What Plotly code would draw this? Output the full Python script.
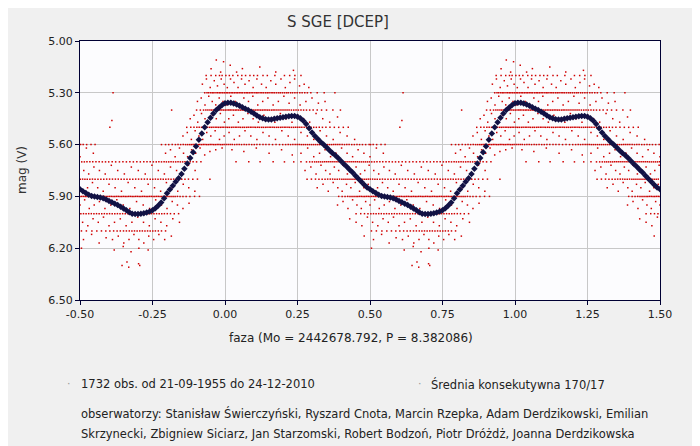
import plotly.graph_objects as go

# ---------------- data ----------------
# mean light curve (consecutive mean), phase 0.00 .. 0.99 step 0.01
mean_phase = [i / 100 for i in range(100)]
mean_mag = [
    5.360, 5.357, 5.358, 5.362, 5.368, 5.375, 5.383, 5.392, 5.400, 5.410,
    5.420, 5.432, 5.442, 5.448, 5.453, 5.455, 5.454, 5.450, 5.447, 5.444,
    5.442, 5.439, 5.436, 5.434, 5.434, 5.438, 5.448, 5.462, 5.480, 5.505,
    5.530, 5.550, 5.568, 5.585, 5.600, 5.615, 5.632, 5.648, 5.662, 5.678,
    5.695, 5.712, 5.728, 5.745, 5.762, 5.780, 5.798, 5.815, 5.832, 5.848,
    5.858, 5.870, 5.880, 5.890, 5.897, 5.900, 5.903, 5.907, 5.911, 5.918,
    5.926, 5.934, 5.942, 5.950, 5.960, 5.970, 5.980, 5.992, 6.000, 6.002,
    6.002, 6.001, 5.998, 5.993, 5.987, 5.980, 5.968, 5.953, 5.935, 5.910,
    5.882, 5.860, 5.838, 5.815, 5.795, 5.770, 5.740, 5.710, 5.678, 5.645,
    5.610, 5.572, 5.535, 5.500, 5.470, 5.445, 5.420, 5.400, 5.385, 5.370,
]

# observations on the 0.1-mag levels: phases in thousandths
band_520 = [935, 952, 968, 981, 990, 3, 15, 27, 44, 58, 71, 86, 99, 112, 131, 146, 172, 205, 223, 241, 262]
band_530 = [930, 938, 944, 951, 957, 962, 969, 975, 981, 986, 992, 998, 4, 9, 15, 21, 26, 32, 38, 43, 49, 55,
            60, 67, 73, 78, 84, 90, 96, 103, 109, 114, 121, 127, 133, 140, 146, 152, 159, 165, 171, 178, 185,
            191, 198, 205, 212, 218, 226, 233, 241, 249, 258, 266, 275, 284, 296, 318, 342, 379, 614]
band_540 = [902, 915, 926, 934, 941, 948, 954, 960, 966, 972, 977, 983, 989, 995, 1, 7, 13, 18, 24, 30, 36, 41,
            47, 53, 59, 64, 70, 76, 82, 88, 93, 99, 105, 111, 117, 123, 129, 135, 141, 147, 153, 160, 166, 172,
            179, 186, 193, 200, 207, 214, 221, 229, 237, 245, 253, 262, 271, 281, 292, 304, 318, 333, 350, 372,
            398, 816]
band_550 = [868, 882, 893, 903, 911, 919, 926, 933, 940, 947, 953, 959, 966, 972, 978, 984, 990, 996, 3, 9, 15,
            22, 28, 35, 41, 48, 54, 61, 67, 74, 80, 87, 93, 100, 106, 113, 119, 126, 132, 139, 145, 152, 158,
            165, 171, 178, 184, 191, 197, 204, 210, 217, 223, 230, 237, 244, 251, 258, 265, 273, 281, 289, 297,
            306, 315, 325, 336, 348, 362, 377, 392, 408, 425, 603]
band_560 = [502, 511, 523, 538, 552, 781, 795, 806, 818, 829, 838, 847, 856, 864, 871, 878, 884, 890, 896, 902,
            908, 913, 919, 925, 931, 937, 943, 949, 955, 961, 967, 973, 979, 985, 991, 997, 4, 11, 18, 25, 33,
            41, 49, 57, 66, 74, 83, 92, 101, 110, 120, 131, 141, 152, 164, 176, 188, 199, 209, 218, 226, 234,
            242, 249, 256, 263, 270, 277, 284, 291, 298, 305, 312, 319, 326, 333, 340, 347, 354, 361, 368, 375,
            382, 389, 396, 404, 412, 420, 428, 437, 446, 455, 464, 474, 485, 497]
band_570 = [38, 82, 121, 166, 205, 237, 262, 281, 292, 301, 309, 316, 323, 330, 337, 344, 351, 358, 365, 372,
            379, 386, 393, 400, 407, 414, 421, 428, 435, 442, 449, 456, 463, 470, 477, 484, 491, 498, 506, 515,
            524, 534, 544, 555, 566, 577, 588, 599, 611, 623, 636, 648, 660, 672, 684, 696, 708, 720, 731, 742,
            753, 763, 772, 781, 790, 798, 806, 814, 822, 830, 838, 846, 854, 862, 871, 880, 890, 902, 917]
band_580 = [283, 298, 312, 324, 335, 345, 354, 363, 371, 379, 387, 395, 403, 410, 417, 424, 431, 438, 445, 452,
            459, 466, 473, 480, 487, 494, 501, 509, 517, 525, 534, 543, 552, 562, 572, 582, 592, 602, 612, 622,
            632, 642, 652, 662, 672, 682, 692, 702, 712, 722, 732, 742, 751, 760, 769, 778, 787, 796, 805, 814,
            823, 832, 841, 851, 862, 874, 889, 905, 948]
band_590 = [392, 404, 414, 423, 431, 438, 445, 452, 458, 464, 470, 476, 482, 488, 494, 500, 506, 512, 518, 524,
            530, 536, 542, 548, 554, 560, 566, 572, 578, 584, 590, 596, 602, 608, 614, 620, 626, 632, 638, 644,
            650, 656, 662, 668, 674, 680, 686, 692, 698, 704, 710, 716, 722, 728, 734, 740, 746, 752, 758, 764,
            770, 776, 782, 788, 794, 800, 807, 814, 821, 828, 836, 845, 855, 866, 879, 895, 912]
band_600 = [452, 468, 481, 493, 503, 512, 521, 530, 539, 548, 557, 566, 575, 584, 593, 602, 611, 620, 629, 638,
            647, 656, 665, 674, 683, 692, 701, 710, 719, 728, 737, 746, 755, 764, 773, 782, 791, 801, 812, 825,
            840]
band_610 = [505, 522, 541, 558, 574, 589, 603, 616, 628, 639, 650, 660, 670, 679, 688, 697, 706, 715, 724, 733,
            742, 751, 760, 770, 781, 795]

# observations between the 0.1-mag levels: (phase in thousandths, mag)
scatter_obs = [
    (970, 5.11), (995, 5.12), (18, 5.14), (952, 5.16), (60, 5.16), (120, 5.15), (236, 5.17), (985, 5.18),
    (40, 5.18), (175, 5.18),
    (922, 5.25), (936, 5.22), (949, 5.27), (963, 5.23), (974, 5.26), (987, 5.22), (997, 5.25), (8, 5.27),
    (19, 5.22), (31, 5.24), (45, 5.27), (57, 5.22), (69, 5.25), (83, 5.23), (97, 5.27), (110, 5.22),
    (126, 5.25), (142, 5.27), (158, 5.23), (175, 5.25), (193, 5.22), (208, 5.27), (224, 5.24), (240, 5.22),
    (257, 5.26), (273, 5.25), (289, 5.27),
    (905, 5.35), (918, 5.33), (931, 5.37), (944, 5.32), (956, 5.35), (968, 5.37), (980, 5.33), (993, 5.35),
    (6, 5.37), (20, 5.32), (35, 5.35), (50, 5.37), (65, 5.33), (81, 5.35), (96, 5.32), (113, 5.37),
    (130, 5.35), (148, 5.33), (166, 5.37), (184, 5.35), (203, 5.32), (221, 5.36), (240, 5.33), (259, 5.37),
    (279, 5.35), (300, 5.33), (322, 5.36), (345, 5.35),
    (880, 5.45), (893, 5.43), (906, 5.47), (919, 5.42), (931, 5.45), (944, 5.47), (957, 5.43), (970, 5.45),
    (984, 5.42), (998, 5.47), (13, 5.45), (29, 5.43), (46, 5.47), (62, 5.45), (79, 5.42), (97, 5.45),
    (115, 5.47), (134, 5.43), (153, 5.45), (172, 5.47), (191, 5.42), (211, 5.45), (231, 5.47), (251, 5.43),
    (271, 5.45), (292, 5.47), (314, 5.42), (337, 5.45), (361, 5.47), (388, 5.44), (610, 5.46),
    (855, 5.55), (870, 5.53), (884, 5.57), (897, 5.52), (910, 5.55), (923, 5.57), (937, 5.53), (951, 5.55),
    (966, 5.52), (981, 5.57), (997, 5.55), (14, 5.53), (32, 5.57), (50, 5.55), (69, 5.52), (89, 5.55),
    (110, 5.57), (131, 5.53), (152, 5.55), (174, 5.57), (196, 5.52), (218, 5.55), (240, 5.57), (262, 5.53),
    (284, 5.55), (306, 5.57), (328, 5.52), (350, 5.55), (373, 5.57), (397, 5.53), (421, 5.55), (447, 5.57),
    (795, 5.65), (812, 5.63), (828, 5.67), (843, 5.62), (857, 5.65), (871, 5.67), (885, 5.63), (899, 5.65),
    (914, 5.62), (930, 5.66), (948, 5.64), (968, 5.63), (990, 5.62), (24, 5.63), (65, 5.64), (108, 5.62),
    (152, 5.65), (195, 5.63), (232, 5.66), (262, 5.65), (285, 5.62), (306, 5.67), (326, 5.65), (345, 5.63),
    (364, 5.67), (383, 5.65), (402, 5.62), (421, 5.65), (440, 5.67), (459, 5.63), (479, 5.65), (500, 5.67),
    (522, 5.62), (546, 5.65),
    (276, 5.75), (296, 5.73), (314, 5.77), (331, 5.72), (347, 5.75), (362, 5.77), (377, 5.73), (392, 5.75),
    (407, 5.72), (422, 5.77), (437, 5.75), (452, 5.73), (467, 5.77), (482, 5.75), (497, 5.72), (513, 5.75),
    (530, 5.77), (548, 5.73), (567, 5.75), (587, 5.77), (608, 5.72), (630, 5.75), (653, 5.77), (677, 5.73),
    (701, 5.75), (725, 5.77), (748, 5.72), (770, 5.75), (791, 5.77), (812, 5.73), (833, 5.75), (853, 5.77),
    (874, 5.72), (897, 5.75),
    (318, 5.85), (338, 5.83), (356, 5.87), (373, 5.82), (389, 5.85), (404, 5.87), (419, 5.83), (434, 5.85),
    (449, 5.82), (464, 5.87), (479, 5.85), (494, 5.83), (510, 5.87), (526, 5.85), (543, 5.82), (561, 5.85),
    (580, 5.87), (600, 5.83), (621, 5.85), (643, 5.87), (666, 5.82), (689, 5.85), (712, 5.87), (735, 5.83),
    (757, 5.85), (778, 5.87), (798, 5.82), (818, 5.85), (837, 5.87), (856, 5.83), (875, 5.85), (896, 5.87),
    (388, 5.95), (407, 5.93), (424, 5.97), (440, 5.92), (455, 5.95), (470, 5.97), (485, 5.93), (500, 5.95),
    (516, 5.92), (532, 5.97), (549, 5.95), (567, 5.93), (586, 5.97), (606, 5.95), (627, 5.92), (649, 5.95),
    (672, 5.97), (695, 5.93), (718, 5.95), (740, 5.97), (761, 5.92), (781, 5.95), (800, 5.97), (818, 5.93),
    (836, 5.95), (855, 5.97), (876, 5.94),
    (430, 6.03), (452, 6.05), (472, 6.07), (491, 6.02), (509, 6.05), (527, 6.07), (545, 6.03), (563, 6.05),
    (581, 6.02), (600, 6.07), (619, 6.05), (639, 6.03), (659, 6.07), (679, 6.05), (699, 6.02), (719, 6.05),
    (739, 6.07), (759, 6.03), (779, 6.05), (799, 6.07), (820, 6.03), (843, 6.05),
    (480, 6.13), (512, 6.15), (540, 6.12), (566, 6.17), (590, 6.14), (612, 6.15), (632, 6.13), (651, 6.17),
    (669, 6.15), (686, 6.12), (703, 6.15), (720, 6.17), (737, 6.13), (754, 6.15), (772, 6.12), (792, 6.15),
    (815, 6.13),
    (505, 6.20), (618, 6.21), (649, 6.19), (676, 6.22), (703, 6.20), (735, 6.21),
    (645, 6.30), (662, 6.28), (668, 6.31), (702, 6.29), (706, 6.30),
]

x_ticks = [-0.50, -0.25, 0.00, 0.25, 0.50, 0.75, 1.00, 1.25, 1.50]
y_ticks = [5.00, 5.30, 5.60, 5.90, 6.20, 6.50]

title_text = "S SGE [DCEP]"
x_title = "faza (Mo = 2442678.792, P = 8.382086)"
y_title = "mag (V)"
info_obs = "1732 obs. od 21-09-1955 do 24-12-2010"
info_mean = "Średnia konsekutywna 170/17"
observers_1 = "obserwatorzy: Stanisław Świerczyński, Ryszard Cnota, Marcin Rzepka, Adam Derdzikowski, Emilian"
observers_2 = "Skrzynecki, Zbigniew Siciarz, Jan Starzomski, Robert Bodzoń, Piotr Dróżdż, Joanna Derdzikowska"

# ---------------- assemble ----------------
obs_phase, obs_mag = [], []
for lvl, arr in [(5.20, band_520), (5.30, band_530), (5.40, band_540), (5.50, band_550), (5.60, band_560),
                 (5.70, band_570), (5.80, band_580), (5.90, band_590), (6.00, band_600), (6.10, band_610)]:
    for p in arr:
        obs_phase.append(p / 1000)
        obs_mag.append(lvl)
for p, m in scatter_obs:
    obs_phase.append(p / 1000)
    obs_mag.append(m)


def fold(phases, mags):
    xs, ys = [], []
    for p, m in zip(phases, mags):
        for shift in (-1, 0, 1):
            x = p + shift
            if -0.5 - 1e-9 <= x <= 1.5 + 1e-9:
                xs.append(x)
                ys.append(m)
    return xs, ys


ox, oy = fold(obs_phase, obs_mag)
mx, my = fold(mean_phase, mean_mag)
order = sorted(range(len(mx)), key=lambda i: mx[i])
mx = [mx[i] for i in order]
my = [my[i] for i in order]

fig = go.Figure()
fig.add_trace(go.Scatter(x=ox, y=oy, mode="markers",
                         marker=dict(symbol="square", size=1.5, color="#d00000", line=dict(width=0)),
                         hoverinfo="skip", showlegend=False))
fig.add_trace(go.Scatter(x=mx, y=my, mode="markers",
                         marker=dict(symbol="diamond", size=5, color="#121245", line=dict(width=0)),
                         hoverinfo="skip", showlegend=False))

# page is drawn with an 8 px body margin, so figure coords = screen coords - 8
OFF = 8
W, H = 700 - OFF, 446 - OFF
L, R, T, B = 80 - OFF, 660 - OFF, 41 - OFF, 300 - OFF


def px(x):
    return (x - OFF - L) / (R - L)


def py(y):
    return (B - (y - OFF)) / (B - T)


font = "DejaVu Sans"
ann = []
ann.append(dict(text=title_text, x=px(338), y=py(22), xref="paper", yref="paper", showarrow=False,
                font=dict(family=font, size=15, color="#333333"), xanchor="center", yanchor="middle"))
ann.append(dict(text=y_title, x=px(22), y=py(170), xref="paper", yref="paper", showarrow=False, textangle=-90,
                font=dict(family=font, size=12, color="#333333"), xanchor="center", yanchor="middle"))
ann.append(dict(text=x_title, x=px(351), y=py(338), xref="paper", yref="paper", showarrow=False,
                font=dict(family=font, size=12, color="#222222"), xanchor="center", yanchor="middle"))
for txt, x0, y0 in [(info_obs, 79, 384), (info_mean, 429, 384), (observers_1, 79, 413), (observers_2, 79, 434)]:
    ann.append(dict(text=txt, x=px(x0), y=py(y0), xref="paper", yref="paper", showarrow=False,
                    font=dict(family=font, size=11.5, color="#222222"), xanchor="left", yanchor="middle"))
for x0 in (69, 420):
    ann.append(dict(text="·", x=px(x0), y=py(383), xref="paper", yref="paper", showarrow=False,
                    font=dict(family=font, size=11, color="#999999"), xanchor="center", yanchor="middle"))

fig.update_layout(
    width=W, height=H,
    margin=dict(l=L, r=W - R, t=T, b=H - B, pad=0),
    paper_bgcolor="#f0f0f0", plot_bgcolor="#fcfcfe",
    annotations=ann, hovermode=False, showlegend=False,
)
fig.update_xaxes(range=[-0.5, 1.5], tickvals=x_ticks, ticktext=[f"{v:.2f}" for v in x_ticks],
                 showgrid=True, gridcolor="#c8c8c8", gridwidth=1, zeroline=False,
                 showline=True, linecolor="#000033", linewidth=1, mirror=True,
                 ticks="outside", ticklen=4, tickcolor="#000033",
                 tickfont=dict(family=font, size=11, color="#222222"))
fig.update_yaxes(range=[6.5, 5.0], tickvals=y_ticks, ticktext=[f"{v:.2f}" for v in y_ticks],
                 showgrid=True, gridcolor="#c8c8c8", gridwidth=1, zeroline=False,
                 showline=True, linecolor="#000033", linewidth=1, mirror=True,
                 ticks="outside", ticklen=4, tickcolor="#000033",
                 tickfont=dict(family=font, size=11, color="#222222"))

fig.write_html("out.html")
